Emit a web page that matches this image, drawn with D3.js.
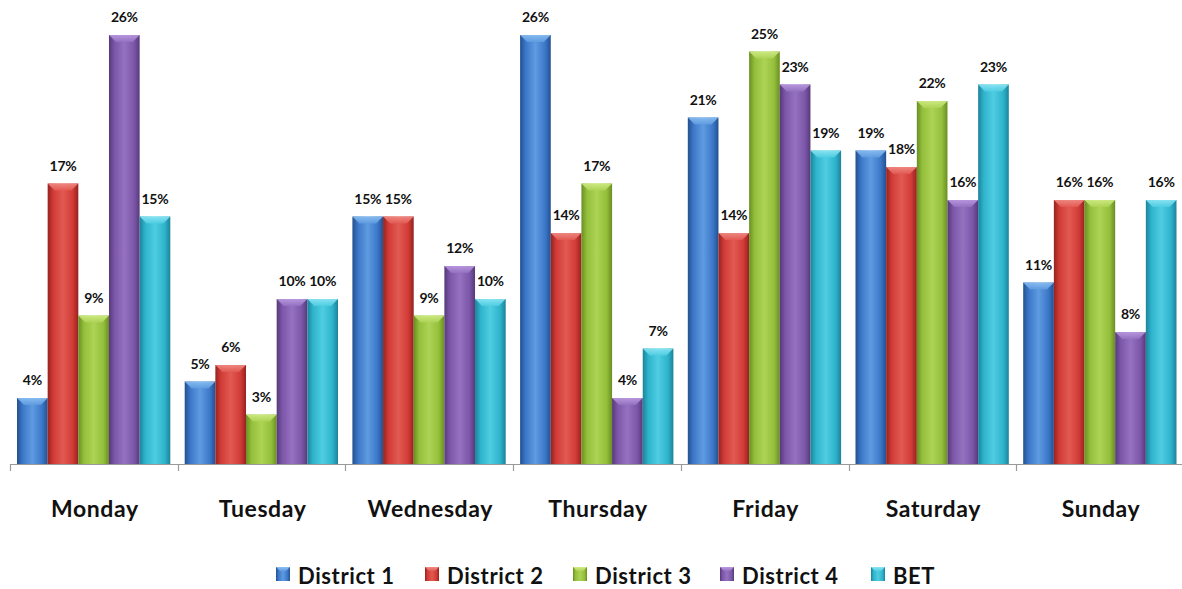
<!DOCTYPE html>
<html>
<head>
<meta charset="utf-8">
<script src="https://cdn.jsdelivr.net/npm/d3@7"></script>
<style>
  html, body { margin: 0; padding: 0; background: #fff; }
  svg { display: block; }
  text { font-family: Lato, "Open Sans", sans-serif; font-weight: 700; fill: #111; }
</style>
</head>
<body>
<svg id="chart" width="1182" height="589"></svg>
<script>
const days = ["Monday", "Tuesday", "Wednesday", "Thursday", "Friday", "Saturday", "Sunday"];
const seriesNames = ["District 1", "District 2", "District 3", "District 4", "BET"];
const district1 = [4, 5, 15, 26, 21, 19, 11];
const district2 = [17, 6, 15, 14, 14, 18, 16];
const district3 = [9, 3, 9, 17, 25, 22, 16];
const district4 = [26, 10, 12, 4, 23, 16, 8];
const bet = [15, 10, 10, 7, 19, 23, 16];
const seriesValues = [district1, district2, district3, district4, bet];
const colors = [
  { base: "#3b77c8", dark: "#24508f", light: "#5f9be0", top: "#8cc0f2" },
  { base: "#d13b36", dark: "#952220", light: "#e25a53", top: "#f08d86" },
  { base: "#93bf3b", dark: "#6a8e22", light: "#aed356", top: "#d0ec86" },
  { base: "#7c56a8", dark: "#56397a", light: "#9572c0", top: "#bc9be2" },
  { base: "#2eb3cc", dark: "#1c8399", light: "#4fcde2", top: "#8ee6f4" }
];

const svg = d3.select("#chart");
const defs = svg.append("defs");

colors.forEach((c, i) => {
  const g = defs.append("linearGradient").attr("id", "bar" + i)
    .attr("x1", 0).attr("x2", 1).attr("y1", 0).attr("y2", 0);
  g.append("stop").attr("offset", "0%").attr("stop-color", c.dark);
  g.append("stop").attr("offset", "18%").attr("stop-color", c.base);
  g.append("stop").attr("offset", "50%").attr("stop-color", c.light);
  g.append("stop").attr("offset", "82%").attr("stop-color", c.base);
  g.append("stop").attr("offset", "100%").attr("stop-color", c.dark);
  const t = defs.append("linearGradient").attr("id", "top" + i)
    .attr("x1", 0).attr("x2", 0).attr("y1", 0).attr("y2", 1);
  t.append("stop").attr("offset", "0%").attr("stop-color", c.top);
  t.append("stop").attr("offset", "100%").attr("stop-color", c.light);
});

const baseY = 464;
const x0 = d3.scaleBand().domain(days).range([10, 10 + 7 * 167.7]).paddingInner(0).paddingOuter(0);
const x1 = d3.scaleBand().domain(seriesNames).range([7, 167.7 - 7.4]).padding(0);
const y = d3.scaleLinear().domain([0, 26]).range([baseY, 35]);

const bars = [];
days.forEach((d, di) => {
  seriesNames.forEach((s, si) => {
    bars.push({ day: d, series: s, si, value: seriesValues[si][di] });
  });
});

const gBars = svg.append("g");
const bar = gBars.selectAll("g.bar").data(bars).join("g").attr("class", "bar");

bar.append("rect")
  .attr("x", b => x0(b.day) + x1(b.series))
  .attr("y", b => y(b.value))
  .attr("width", x1.bandwidth())
  .attr("height", b => baseY - y(b.value))
  .attr("fill", b => `url(#bar${b.si})`);

// bevelled top face
bar.append("path")
  .attr("d", b => {
    const xl = x0(b.day) + x1(b.series);
    const w = x1.bandwidth();
    const yt = y(b.value);
    const h = 7, inset = 7;
    return `M${xl},${yt} L${xl + w},${yt} L${xl + w - inset},${yt + h} L${xl + inset},${yt + h} Z`;
  })
  .attr("fill", b => `url(#top${b.si})`)
  .attr("opacity", 0.9);

// value labels
svg.append("g").selectAll("text").data(bars).join("text")
  .attr("x", b => x0(b.day) + x1(b.series) + x1.bandwidth() / 2)
  .attr("y", b => y(b.value) - 13)
  .attr("text-anchor", "middle")
  .attr("font-size", 14)
  .attr("letter-spacing", -0.3)
  .text(b => b.value + "%");

// category axis
const axis = svg.append("g").attr("stroke", "#9a9a9a").attr("stroke-width", 1.2);
axis.append("line")
  .attr("x1", x0.range()[0]).attr("x2", 1182)
  .attr("y1", baseY + 0.5).attr("y2", baseY + 0.5);
const tickXs = days.map(d => x0(d)).concat([x0.range()[1]]);
axis.selectAll("line.tick").data(tickXs).join("line").attr("class", "tick")
  .attr("x1", d => Math.round(d) + 0.5).attr("x2", d => Math.round(d) + 0.5)
  .attr("y1", baseY).attr("y2", baseY + 7);

svg.append("g").selectAll("text").data(days).join("text")
  .attr("x", d => x0(d) + x0.bandwidth() / 2 + 1)
  .attr("y", 517)
  .attr("text-anchor", "middle")
  .attr("font-size", 23)
  .attr("letter-spacing", 0.6)
  .text(d => d);

// legend
const legendX = [276, 425, 573, 720, 871];
const legend = svg.append("g").selectAll("g").data(seriesNames).join("g")
  .attr("transform", (d, i) => `translate(${legendX[i]},567)`);
legend.append("rect")
  .attr("width", 14).attr("height", 14)
  .attr("fill", (d, i) => `url(#bar${i})`);
legend.append("path")
  .attr("d", "M0,0 L14,0 L10,4 L4,4 Z")
  .attr("fill", (d, i) => `url(#top${i})`);
legend.append("text")
  .attr("x", 22).attr("y", 16.5)
  .attr("font-size", 22)
  .attr("letter-spacing", 0.6)
  .text(d => d);
</script>
</body>
</html>
